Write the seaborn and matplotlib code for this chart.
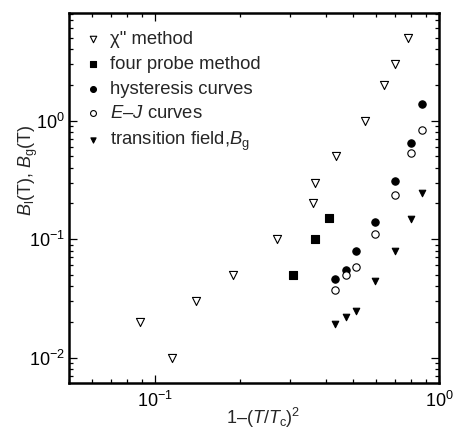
import numpy as np
import pandas as pd
import seaborn as sns
import matplotlib
matplotlib.use("Agg")
import matplotlib.pyplot as plt
from matplotlib.ticker import LogLocator, LogFormatterMathtext, NullFormatter

# chi'' method (open down triangles)
chi_x = [0.0886, 0.115, 0.139, 0.189, 0.27, 0.359, 0.366, 0.433, 0.548, 0.64, 0.70, 0.78]
chi_y = [0.02, 0.01, 0.03, 0.05, 0.1, 0.2, 0.3, 0.5, 1.0, 2.0, 3.0, 5.0]

# four probe method (filled squares)
four_x = [0.306, 0.366, 0.41]
four_y = [0.05, 0.1, 0.15]

# hysteresis curves (filled circles)
hyst_x = [0.432, 0.47, 0.51, 0.596, 0.70, 0.795, 0.871]
hyst_y = [0.046, 0.055, 0.08, 0.14, 0.31, 0.65, 1.37]

# E-J curves (open circles)
ej_x = [0.432, 0.47, 0.51, 0.596, 0.70, 0.795, 0.871]
ej_y = [0.037, 0.05, 0.058, 0.11, 0.235, 0.53, 0.835]

# transition field Bg (filled down triangles)
bg_x = [0.432, 0.47, 0.51, 0.596, 0.70, 0.795, 0.871]
bg_y = [0.0192, 0.0218, 0.0247, 0.0444, 0.079, 0.147, 0.247]

sns.set_theme(style="ticks")
plt.rcParams['font.family'] = ['Liberation Sans', 'DejaVu Sans']
plt.rcParams['mathtext.fontset'] = 'custom'
plt.rcParams['mathtext.rm'] = 'Liberation Sans'
plt.rcParams['mathtext.it'] = 'Liberation Sans:italic'
plt.rcParams['mathtext.bf'] = 'Liberation Sans:bold'

fig = plt.figure(figsize=(4.55, 4.32), dpi=100)
ax = fig.add_axes([0.1516, 0.1134, 0.8132, 0.8566])

series = [
    (chi_x, chi_y, 'χ" method', 'v', 'white', 34),
    (four_x, four_y, 'four probe method', 's', 'black', 26),
    (hyst_x, hyst_y, 'hysteresis curves', 'o', 'black', 28),
    (ej_x, ej_y, '$E$–$J$ curves', 'o', 'white', 28),
    (bg_x, bg_y, 'transition field,$B_{\\mathrm{g}}$', 'v', 'black', 22),
]
for xs, ys, name, mk, fc, sz in series:
    df = pd.DataFrame({'x': xs, 'y': ys})
    sns.scatterplot(data=df, x='x', y='y', marker=mk, s=sz, color=fc,
                    edgecolor='black', linewidth=0.8, label=name, ax=ax, zorder=3)

ax.set_xscale('log')
ax.set_yscale('log')
ax.set_xlim(0.0498, 1.0)
ax.set_ylim(0.0061, 8.1)

ax.xaxis.set_major_locator(LogLocator(base=10))
ax.yaxis.set_major_locator(LogLocator(base=10))
ax.xaxis.set_minor_locator(LogLocator(base=10, subs=np.arange(2, 10)))
ax.yaxis.set_minor_locator(LogLocator(base=10, subs=np.arange(2, 10)))
ax.xaxis.set_minor_formatter(NullFormatter())
ax.yaxis.set_minor_formatter(NullFormatter())
ax.xaxis.set_major_formatter(LogFormatterMathtext())
ax.yaxis.set_major_formatter(LogFormatterMathtext())

ax.tick_params(which='both', direction='in', top=True, right=True, colors='black',
               labelsize=13, width=0.9)
ax.tick_params(which='major', length=5.5)
ax.tick_params(which='minor', length=3)
ax.tick_params(axis='x', which='major', pad=6)
ax.tick_params(axis='y', which='major', pad=3)
for sp in ax.spines.values():
    sp.set_linewidth(1.8)
    sp.set_color('black')

ax.set_xlabel('1–($T$/$T_{\\mathrm{c}}$)$^2$', fontsize=13)
ax.xaxis.set_label_coords(0.524, -0.063)
ax.set_ylabel('$B_{\\mathrm{l}}$(T), $B_{\\mathrm{g}}$(T)', fontsize=13)
ax.yaxis.set_label_coords(-0.078, 0.576)

leg = ax.legend(loc='upper left', frameon=False, fontsize=13.3, markerscale=0.8,
                handletextpad=0.3, labelspacing=0.42, borderaxespad=0.3,
                handlelength=1.2, bbox_to_anchor=(0.0, 0.986))

fig.savefig('out.png', dpi=100)
